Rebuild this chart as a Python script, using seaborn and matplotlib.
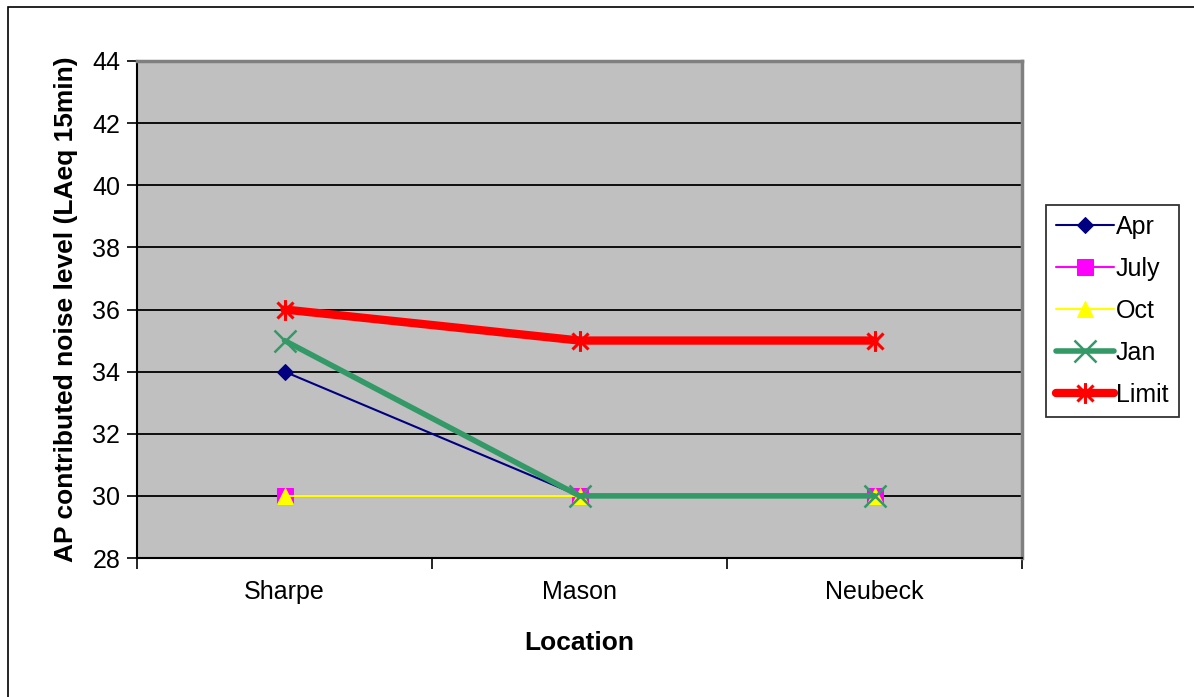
import matplotlib
matplotlib.use("Agg")
import matplotlib.pyplot as plt
from matplotlib.path import Path
from matplotlib.patches import Rectangle
import seaborn as sns
import pandas as pd

# Monitoring locations and measured levels per survey
locations = ["Sharpe", "Mason", "Neubeck"]
apr = [34, 30, 30]
july = [30, 30, 30]
oct_ = [30, 30, 30]
jan = [35, 30, 30]
limit = [36, 35, 35]
y_ticks = [28, 30, 32, 34, 36, 38, 40, 42, 44]

sns.set_theme(style="white")
plt.rcParams["font.family"] = ["Liberation Sans", "DejaVu Sans"]
plt.rcParams["text.color"] = "black"
plt.rcParams["axes.labelcolor"] = "black"
plt.rcParams["xtick.color"] = "black"
plt.rcParams["ytick.color"] = "black"

# Asterisk marker: an "x" with a vertical stroke through it
star_path = Path(
    [(-1, -1), (1, 1), (-1, 1), (1, -1), (0, -1.3), (0, 1.3)],
    [Path.MOVETO, Path.LINETO, Path.MOVETO, Path.LINETO, Path.MOVETO, Path.LINETO],
)

series = [
    ("Apr", apr, dict(color="#000080", lw=1.5, marker="D", ms=8, mfc="#000080", mec="#000080")),
    ("July", july, dict(color="#FF00FF", lw=1.5, marker="s", ms=11, mfc="#FF00FF", mec="#FF00FF")),
    ("Oct", oct_, dict(color="#FFFF00", lw=1.5, marker="^", ms=11, mfc="#FFFF00", mec="#FFFF00")),
    ("Jan", jan, dict(color="#339966", lw=4, marker="x", ms=16, mew=1.8, mec="#339966")),
    ("Limit", limit, dict(color="#FF0000", lw=6, marker=star_path, ms=15, mew=2.2, mec="#FF0000", mfc="none")),
]

fig = plt.figure(figsize=(11.94, 6.97), dpi=100)
ax = fig.add_axes([137 / 1194, 1 - 558 / 697, (1022 - 137) / 1194, (558 - 61) / 697])
ax.set_facecolor("#C0C0C0")

xpos = list(range(len(locations)))
for name, vals, st in series:
    df = pd.DataFrame({"x": xpos, "y": vals})
    sns.lineplot(data=df, x="x", y="y", ax=ax, label=name, solid_capstyle="round", **st)

ax.set_xlim(-0.5, len(locations) - 0.5)
ax.set_ylim(28, 44)
ax.set_yticks(y_ticks)
ax.set_yticklabels([str(v) for v in y_ticks], fontsize=18)
ax.set_xticks(xpos)
ax.set_xticklabels(locations, fontsize=18)
ax.set_xticks([-0.5, 0.5, 1.5, 2.5], minor=True)
ax.tick_params(axis="x", which="major", length=0, pad=16)
ax.tick_params(axis="x", which="minor", length=8, width=1.2, color="black", direction="out", bottom=True)
ax.tick_params(axis="y", length=7, width=1.2, color="black", direction="out", left=True, pad=5)
ax.yaxis.grid(True, color="black", lw=1.3)
ax.xaxis.grid(False)
ax.set_axisbelow(True)

for side in ["left", "bottom"]:
    ax.spines[side].set_color("black")
    ax.spines[side].set_linewidth(1.5)
for side in ["top", "right"]:
    ax.spines[side].set_color("#808080")
    ax.spines[side].set_linewidth(2.5)

ax.set_xlabel("Location", fontsize=19, fontweight="bold", labelpad=19)
ax.set_ylabel("AP contributed noise level (LAeq 15min)", fontsize=19, fontweight="bold", labelpad=10)

ax.get_legend().remove()
handles, labels = ax.get_legend_handles_labels()
leg = fig.legend(
    handles, labels,
    loc="upper left", bbox_to_anchor=(1046 / 1194, 1 - 205 / 697),
    frameon=True, fancybox=False, edgecolor="black", facecolor="white",
    fontsize=18, handlelength=2.3, handletextpad=0.1, labelspacing=0.72,
    borderpad=0.4, borderaxespad=0,
)
leg.get_frame().set_linewidth(1.3)

# Outer chart border
fig.patches.append(Rectangle((8 / 1194, -0.1), 1.2, 1 - 7 / 697 + 0.1,
                             transform=fig.transFigure, fill=False,
                             edgecolor="black", lw=1.2))

fig.savefig("out.png", dpi=100)
